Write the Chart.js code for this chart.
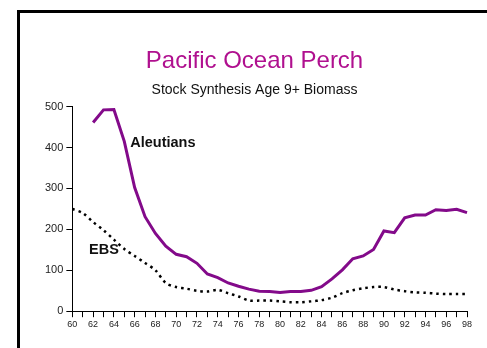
<!DOCTYPE html>
<html>
<head>
<meta charset="utf-8">
<script src="https://cdn.jsdelivr.net/npm/chart.js@4"></script>
<style>
  html, body { margin: 0; padding: 0; background: #fff; }
  #wrap { position: relative; width: 487px; height: 348px; overflow: hidden; }
  #frame { position: absolute; left: 17px; top: 10px; width: 480px; height: 350px;
           border-top: 3px solid #000; border-left: 3px solid #000; }
  #chart { position: absolute; left: 0; top: 0; }
</style>
</head>
<body>
<div id="wrap">
  <div id="frame"></div>
  <canvas id="chart" width="487" height="348"></canvas>
</div>
<script>
const years = [];
for (let y = 60; y <= 98; y++) years.push(String(y));

// Stock Synthesis age 9+ biomass
const aleutians = [null, null, 461, 492, 493, 415, 302, 231, 190, 159,
  139, 133, 117, 91, 82, 69, 61, 54, 49, 48,
  46, 48, 48, 51, 60, 79, 101, 128, 135, 151,
  196, 192, 228, 235, 235, 248, 246, 249, 241];
const ebs = [250, 240, 218, 198, 175, 152, 135, 118, 100, 69,
  59, 55, 50, 48, 52, 44, 36, 26, 26, 26,
  24, 22, 22, 24, 27, 33, 44, 51, 56, 59,
  59, 53, 49, 46, 45, 43, 42, 42, 42];

const seriesLabels = [
  { text: 'Aleutians', year: '65', value: 410, dx: 6 },
  { text: 'EBS', year: '62', value: 149, dx: -4 }
];

const labelPlugin = {
  id: 'seriesLabels',
  afterDatasetsDraw(chart) {
    const ctx = chart.ctx;
    const xs = chart.scales.x, ys = chart.scales.y;
    ctx.save();
    ctx.font = 'bold 14.5px "Liberation Sans", Arial, sans-serif';
    ctx.fillStyle = '#111';
    ctx.textBaseline = 'middle';
    seriesLabels.forEach(l => {
      ctx.fillText(l.text, xs.getPixelForValue(l.year) + l.dx, ys.getPixelForValue(l.value));
    });
    ctx.restore();
  }
};

Chart.defaults.font.family = '"Liberation Sans", Arial, sans-serif';
Chart.defaults.color = '#222';

new Chart(document.getElementById('chart'), {
  type: 'line',
  data: {
    labels: years,
    datasets: [
      { label: 'Aleutians', data: aleutians, borderColor: '#830a8a', borderWidth: 3,
        pointRadius: 0, tension: 0, spanGaps: false },
      { label: 'EBS', data: ebs, borderColor: '#000', borderWidth: 2.5,
        borderDash: [2.5, 4], pointRadius: 0, tension: 0.3 }
    ]
  },
  options: {
    responsive: false,
    animation: false,
    layout: { padding: { left: 42, right: 20, top: 47, bottom: 16 } },
    plugins: {
      legend: { display: false },
      tooltip: { enabled: false },
      title: { display: true, text: 'Pacific Ocean Perch', color: '#b0108f',
        font: { size: 24, weight: 'normal' }, padding: { top: 0, bottom: 6 } },
      subtitle: { display: true, text: 'Stock Synthesis Age 9+ Biomass', color: '#111',
        font: { size: 14 }, padding: { top: 0, bottom: 8 } }
    },
    scales: {
      x: {
        offset: false,
        grid: { display: true, drawOnChartArea: false, drawTicks: true, tickLength: 6, color: '#000' },
        border: { display: true, color: '#000', width: 1 },
        ticks: { autoSkip: false, maxRotation: 0, padding: 2, font: { size: 9 },
          callback: (v, i) => (i % 2 === 0 ? years[i] : '') }
      },
      y: {
        min: 0, max: 500,
        grid: { display: true, drawOnChartArea: false, drawTicks: true, tickLength: 6, color: '#000' },
        border: { display: true, color: '#000', width: 1 },
        ticks: { stepSize: 100, padding: 3, font: { size: 11 } }
      }
    }
  },
  plugins: [labelPlugin]
});
</script>
</body>
</html>
